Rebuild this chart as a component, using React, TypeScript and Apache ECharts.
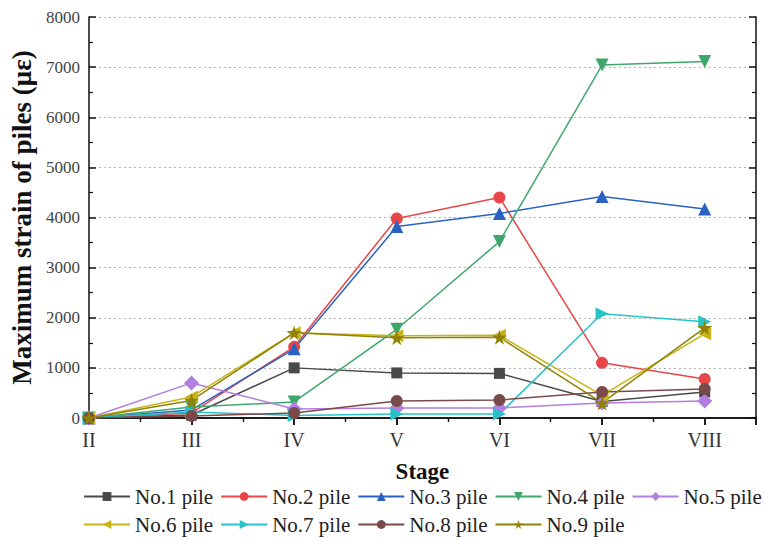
import React, { useEffect, useRef } from "react";
import * as echarts from "echarts";

// Construction stages and the maximum pile strain (με) recorded at each one
const stages = ["II", "III", "IV", "V", "VI", "VII", "VIII"];
const pile1 = [0, 60, 1000, 900, 890, 330, 520];
const pile2 = [0, 100, 1420, 3980, 4400, 1100, 780];
const pile3 = [0, 160, 1380, 3820, 4080, 4420, 4170];
const pile4 = [0, 220, 320, 1770, 3520, 7040, 7110];
const pile5 = [0, 700, 180, 200, 200, 300, 340];
const pile6 = [0, 420, 1700, 1640, 1650, 450, 1680];
const pile7 = [0, 120, 50, 80, 80, 2080, 1920];
const pile8 = [0, 40, 100, 340, 360, 520, 580];
const pile9 = [0, 350, 1700, 1600, 1610, 300, 1800];

const yTicks = [0, 1000, 2000, 3000, 4000, 5000, 6000, 7000, 8000];

const STAR =
  "path://M50,0 L61,35 L98,35 L68,57 L79,91 L50,70 L21,91 L32,57 L2,35 L39,35 Z";

const SERIF = "'Liberation Serif', 'Times New Roman', serif";

type PileDef = {
  name: string;
  values: number[];
  color: string;
  symbol: string;
  rotate?: number;
  size?: number;
};

const piles: PileDef[] = [
  { name: "No.1 pile", values: pile1, color: "#4a4a4a", symbol: "rect", size: 11 },
  { name: "No.2 pile", values: pile2, color: "#e8474a", symbol: "circle", size: 12 },
  { name: "No.3 pile", values: pile3, color: "#2a62c4", symbol: "triangle", size: 13 },
  { name: "No.4 pile", values: pile4, color: "#3ea86c", symbol: "triangle", rotate: 180, size: 13 },
  { name: "No.5 pile", values: pile5, color: "#b27ee0", symbol: "diamond", size: 15 },
  { name: "No.6 pile", values: pile6, color: "#c9b416", symbol: "triangle", rotate: 90, size: 13 },
  { name: "No.7 pile", values: pile7, color: "#27c3c9", symbol: "triangle", rotate: -90, size: 13 },
  { name: "No.8 pile", values: pile8, color: "#7a4a4a", symbol: "circle", size: 12 },
  { name: "No.9 pile", values: pile9, color: "#8f8206", symbol: STAR, size: 15 },
];

const stageLabel = (v: number) => {
  const i = Math.round(v) - 2;
  return Math.abs(v - Math.round(v)) < 1e-6 && i >= 0 && i < stages.length ? stages[i] : "";
};

export default function App() {
  const ref = useRef<HTMLDivElement>(null);

  useEffect(() => {
    if (!ref.current) return;
    const chart = echarts.init(ref.current, undefined, { renderer: "svg" });

    const axisLine = { show: true, lineStyle: { color: "#111", width: 1.5 } };
    const tickStyle = { color: "#111", width: 1.5 };
    const minorStyle = { color: "#111", width: 1.2 };

    chart.setOption({
      animation: false,
      backgroundColor: "#fff",
      grid: { left: 88, right: 10, top: 17, bottom: 122, containLabel: false },
      legend: {
        left: 78,
        top: 481,
        width: 690,
        itemWidth: 46,
        itemHeight: 11,
        itemGap: 7,
        textStyle: { fontFamily: SERIF, fontSize: 21, color: "#222" },
        data: piles.map((p) => p.name),
      },
      xAxis: [
        {
          type: "value",
          min: 2,
          max: 8.5,
          interval: 1,
          name: "Stage",
          nameLocation: "middle",
          nameGap: 42,
          nameTextStyle: { fontFamily: SERIF, fontSize: 23, fontWeight: "bold", color: "#111" },
          axisLine,
          axisTick: { show: true, inside: false, length: 7, lineStyle: tickStyle },
          minorTick: { show: true, splitNumber: 2, length: 4, lineStyle: minorStyle },
          splitLine: { show: false },
          axisLabel: {
            formatter: stageLabel,
            fontFamily: SERIF,
            fontSize: 20,
            color: "#333",
            margin: 12,
            showMaxLabel: false,
          },
        },
        {
          type: "value",
          position: "top",
          min: 2,
          max: 8.5,
          interval: 1,
          axisLine,
          axisTick: { show: true, inside: true, length: 7, lineStyle: tickStyle },
          minorTick: { show: true, splitNumber: 2, length: 4, lineStyle: minorStyle },
          splitLine: { show: false },
          axisLabel: { show: false },
        },
      ],
      yAxis: [
        {
          type: "value",
          min: yTicks[0],
          max: yTicks[yTicks.length - 1],
          interval: 1000,
          name: "Maximum strain of piles (με)",
          nameLocation: "middle",
          nameGap: 47,
          nameTextStyle: { fontFamily: SERIF, fontSize: 27, fontWeight: "bold", color: "#111" },
          axisLine,
          axisTick: { show: true, inside: true, length: 7, lineStyle: tickStyle },
          minorTick: { show: true, splitNumber: 2, length: 4, lineStyle: minorStyle },
          splitLine: { show: true, lineStyle: { color: "#b0b0b0", type: [2, 3], width: 1 } },
          axisLabel: {
            formatter: (v: number) => String(v),
            fontFamily: SERIF,
            fontSize: 17,
            color: "#444",
            margin: 9,
          },
        },
        {
          type: "value",
          position: "right",
          min: yTicks[0],
          max: yTicks[yTicks.length - 1],
          interval: 1000,
          axisLine,
          axisTick: { show: true, inside: true, length: 7, lineStyle: tickStyle },
          minorTick: { show: true, splitNumber: 2, length: 4, lineStyle: minorStyle },
          splitLine: { show: false },
          axisLabel: { show: false },
        },
      ],
      series: piles.map((p) => ({
        name: p.name,
        type: "line",
        xAxisIndex: 0,
        yAxisIndex: 0,
        data: p.values.map((v, i) => [i + 2, v]),
        symbol: p.symbol,
        symbolRotate: p.rotate ?? 0,
        symbolSize: p.size ?? 12,
        showAllSymbol: true,
        color: p.color,
        lineStyle: { color: p.color, width: 1.5 },
        itemStyle: { color: p.color },
      })),
    });

    return () => chart.dispose();
  }, []);

  return (
    <div
      ref={ref}
      style={{ position: "absolute", left: 0, top: 0, width: 766, height: 540 }}
    />
  );
}
